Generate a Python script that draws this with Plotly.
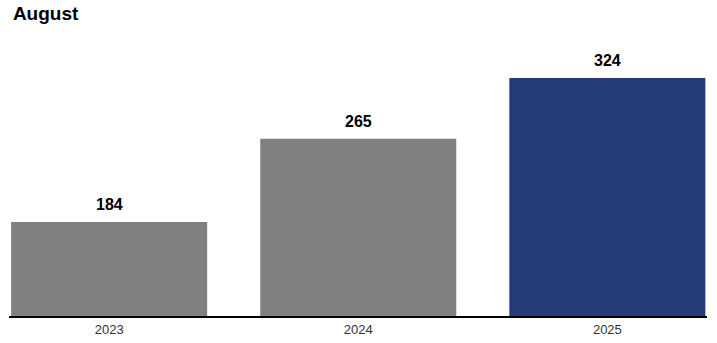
import plotly.graph_objects as go

categories = ["2023", "2024", "2025"]
values = [184, 265, 324]
colors = ["#808080", "#808080", "#253B7A"]

fig = go.Figure(go.Bar(
    x=categories, y=values, marker=dict(color=colors, line=dict(width=0)),
    hoverinfo="skip",
))

for i, v in enumerate(values):
    fig.add_annotation(x=i, y=v, xref="x", yref="y", text=f"<b>{v}</b>", showarrow=False,
                       yanchor="bottom", yshift=7,
                       font=dict(family="Liberation Sans, Arial", size=16, color="#000"))

fig.update_layout(
    width=717, height=343,
    margin=dict(l=9, r=10, t=40, b=27),
    paper_bgcolor="white", plot_bgcolor="white",
    bargap=0.213,
    showlegend=False,
    title=dict(text="<b>August</b>", x=0.018, xanchor="left", y=0.96, yanchor="middle",
               font=dict(family="Liberation Sans, Arial", size=19, color="#000")),
    xaxis=dict(type="category", range=[-0.402, 2.4], showline=True, linecolor="#000",
               linewidth=2, ticks="", showgrid=False, automargin=False,
               tickfont=dict(family="Liberation Sans, Arial", size=13, color="#333")),
    yaxis=dict(range=[92.6, 361], visible=False, showgrid=False),
)

fig.write_html("out.html")
